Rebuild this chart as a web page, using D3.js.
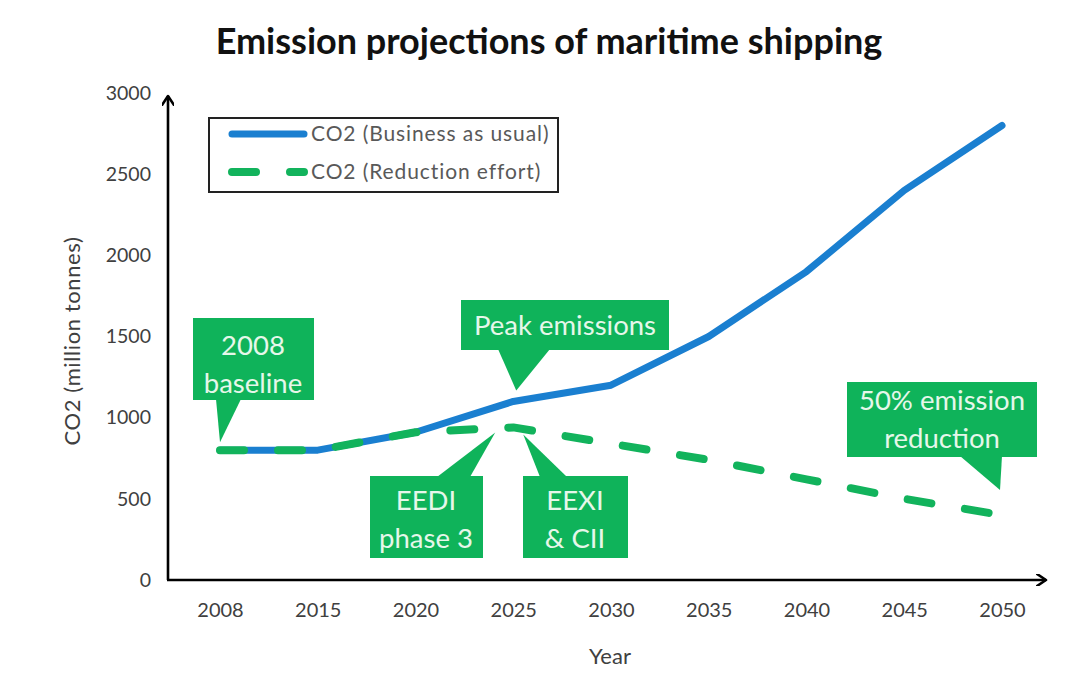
<!DOCTYPE html>
<html>
<head>
<meta charset="utf-8">
<script src="https://cdn.jsdelivr.net/npm/d3@7"></script>
<style>
  html, body { margin: 0; padding: 0; background: #ffffff; }
  svg { display: block; }
  text { font-family: Lato, "Open Sans", sans-serif; }
</style>
</head>
<body>
<svg id="chart" width="1078" height="674"></svg>
<script>
// Categories and series (million tonnes CO2)
const years = ["2008", "2015", "2020", "2025", "2030", "2035", "2040", "2045", "2050"];
const businessAsUsual = [800, 800, 910, 1100, 1200, 1500, 1900, 2400, 2800];
const reductionEffort = [800, 800, 910, 940, 840, 740, 620, 500, 400];
const yTicks = [0, 500, 1000, 1500, 2000, 2500, 3000];

// Callouts: anchored to a year and value on the chart
const callouts = [
  { lines: ["2008", "baseline"], year: "2008", value: 800 },
  { lines: ["Peak emissions"], year: "2025", value: 1100 },
  { lines: ["EEDI", "phase 3"], year: "2025", value: 940 },
  { lines: ["EEXI", "& CII"], year: "2025", value: 940 },
  { lines: ["50% emission", "reduction"], year: "2050", value: 400 }
];

const blue = "#1a7fd0";
const green = "#12b35c";
const boxGreen = "#0fb35a";
const boxText = "#e6f7ea";
const tickColor = "#404040";

const svg = d3.select("#chart");

const x = d3.scalePoint().domain(years).range([220, 1002]);
const y = d3.scaleLinear().domain([0, 3000]).range([580, 93]);

// Title
svg.append("text")
  .attr("x", 549).attr("y", 54)
  .attr("text-anchor", "middle")
  .attr("font-size", 36).attr("font-weight", 700)
  .attr("fill", "#111")
  .text("Emission projections of maritime shipping");

// Arrowhead marker
const defs = svg.append("defs");
defs.append("marker")
  .attr("id", "arrow")
  .attr("viewBox", "0 0 12 12")
  .attr("refX", 10).attr("refY", 6)
  .attr("markerWidth", 12).attr("markerHeight", 12)
  .attr("markerUnits", "userSpaceOnUse")
  .attr("orient", "auto")
  .append("path")
  .attr("d", "M1,0 L10,6 L1,12")
  .attr("fill", "none").attr("stroke", "#000").attr("stroke-width", 2.6)
  .attr("stroke-linecap", "round").attr("stroke-linejoin", "round");

// Axes lines with arrows
svg.append("line")
  .attr("x1", 168).attr("y1", y(0)).attr("x2", 168).attr("y2", 96)
  .attr("stroke", "#000").attr("stroke-width", 2.6)
  .attr("marker-end", "url(#arrow)");
svg.append("line")
  .attr("x1", 167).attr("y1", y(0)).attr("x2", 1046).attr("y2", y(0))
  .attr("stroke", "#000").attr("stroke-width", 2.6)
  .attr("marker-end", "url(#arrow)");

// Y tick labels via axis generator
const yAxis = svg.append("g")
  .attr("transform", "translate(151,0)")
  .call(d3.axisLeft(y).tickValues(yTicks).tickSize(0).tickPadding(0).tickFormat(d3.format("d")));
yAxis.select(".domain").remove();
yAxis.selectAll("text")
  .attr("font-family", "Lato, sans-serif")
  .attr("font-size", 19.5).attr("fill", tickColor);

// X tick labels via axis generator
const xAxis = svg.append("g")
  .attr("transform", "translate(0,603)")
  .call(d3.axisBottom(x).tickSize(0).tickPadding(0));
xAxis.select(".domain").remove();
xAxis.selectAll("text")
  .attr("font-family", "Lato, sans-serif")
  .attr("font-size", 20).attr("fill", tickColor);

// Axis titles
svg.append("text")
  .attr("x", 610).attr("y", 664)
  .attr("text-anchor", "middle")
  .attr("font-size", 22).attr("fill", tickColor)
  .text("Year");
svg.append("text")
  .attr("transform", "translate(80,341) rotate(-90)")
  .attr("text-anchor", "middle")
  .attr("font-size", 22).attr("letter-spacing", 0.6).attr("fill", tickColor)
  .text("CO2 (million tonnes)");

// Series lines
const line = d3.line().x((d, i) => x(years[i])).y(d => y(d));

svg.append("path")
  .datum(businessAsUsual)
  .attr("d", line)
  .attr("fill", "none").attr("stroke", blue).attr("stroke-width", 7)
  .attr("stroke-linecap", "round").attr("stroke-linejoin", "round");

svg.append("path")
  .datum(reductionEffort)
  .attr("d", line)
  .attr("fill", "none").attr("stroke", green).attr("stroke-width", 8)
  .attr("stroke-dasharray", "24,34")
  .attr("stroke-linecap", "round").attr("stroke-linejoin", "round");

// Legend
const legend = svg.append("g");
legend.append("rect")
  .attr("x", 209).attr("y", 118).attr("width", 349).attr("height", 74)
  .attr("fill", "#fff").attr("stroke", "#222").attr("stroke-width", 2);
legend.append("line")
  .attr("x1", 232).attr("y1", 134).attr("x2", 304).attr("y2", 134)
  .attr("stroke", blue).attr("stroke-width", 7).attr("stroke-linecap", "round");
legend.append("line")
  .attr("x1", 232).attr("y1", 172).attr("x2", 304).attr("y2", 172)
  .attr("stroke", green).attr("stroke-width", 8).attr("stroke-linecap", "round")
  .attr("stroke-dasharray", "24,34");
legend.append("text")
  .attr("x", 311).attr("y", 141)
  .attr("font-size", 21).attr("letter-spacing", 0.9).attr("fill", "#595959")
  .text("CO2 (Business as usual)");
legend.append("text")
  .attr("x", 311).attr("y", 179)
  .attr("font-size", 21).attr("letter-spacing", 0.9).attr("fill", "#595959")
  .text("CO2 (Reduction effort)");

// Callout boxes: rectangle + pointer triangle toward the anchor point
const boxes = [
  { rect: [193, 318, 121, 82], tail: [[216, 399], [241, 399]], tip: [0, -8], cx: 253, ty: [355, 393] },
  { rect: [461, 300, 208, 50], tail: [[498, 349], [550, 349]], tip: [3, -11], cx: 565, ty: [335] },
  { rect: [370, 476, 113, 82], tail: [[437, 477], [470, 477]], tip: [-18, 5], cx: 426, ty: [510, 548] },
  { rect: [523, 476, 105, 82], tail: [[540, 477], [567, 477]], tip: [10, 7], cx: 575, ty: [510, 548] },
  { rect: [847, 382, 190, 75], tail: [[960, 456], [1002, 456]], tip: [-2, -25], cx: 942, ty: [410, 448] }
];

callouts.forEach((c, i) => {
  const b = boxes[i];
  const g = svg.append("g");
  const tx = x(c.year) + b.tip[0];
  const ty = y(c.value) + b.tip[1];
  g.append("path")
    .attr("d", `M${b.tail[0][0]},${b.tail[0][1]} L${tx},${ty} L${b.tail[1][0]},${b.tail[1][1]} Z`)
    .attr("fill", boxGreen);
  g.append("rect")
    .attr("x", b.rect[0]).attr("y", b.rect[1])
    .attr("width", b.rect[2]).attr("height", b.rect[3])
    .attr("fill", boxGreen);
  c.lines.forEach((t, j) => {
    g.append("text")
      .attr("x", b.cx).attr("y", b.ty[j])
      .attr("text-anchor", "middle")
      .attr("font-size", 27.5).attr("fill", boxText)
      .text(t);
  });
});
</script>
</body>
</html>
